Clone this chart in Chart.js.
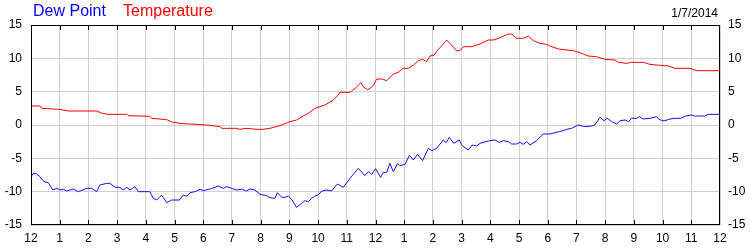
<!DOCTYPE html>
<html>
<head>
<meta charset="utf-8">
<script src="https://cdn.jsdelivr.net/npm/chart.js@4.4.1/dist/chart.umd.min.js"></script>
<style>
  body { margin: 0; background: #fff; }
  #wrap { position: relative; width: 750px; height: 250px; }
  .lbl { position: absolute; font-family: Arial, "Liberation Sans", sans-serif; white-space: nowrap; line-height: 1; }
</style>
</head>
<body>
<div id="wrap">
  <canvas id="weatherChart" width="750" height="250"></canvas>
  <div class="lbl" style="left:33px; top:3px; font-size:16px; color:#0000ff;">Dew Point</div>
  <div class="lbl" style="left:123px; top:3px; font-size:16px; color:#ff0000;">Temperature</div>
  <div class="lbl" style="right:32px; top:7px; font-size:12px; color:#000;">1/7/2014</div>
</div>
<script>
// hour labels along the bottom (midnight to midnight)
const hourLabels = ['12', '1', '2', '3', '4', '5', '6', '7', '8', '9', '10', '11',
  '12', '1', '2', '3', '4', '5', '6', '7', '8', '9', '10', '11', '12'];

// temperature, hours since midnight / degrees
const tempHours = [0, 0.31, 0.38, 1.0, 1.3, 2.3, 2.45, 2.68, 3.34, 3.38, 4.14, 4.2, 4.73, 4.9,
  5.3, 5.78, 6.23, 6.58, 6.65, 7.17, 7.28, 7.5, 7.87, 8.08, 8.32, 8.67, 9.02, 9.25, 9.48,
  9.66, 9.89, 10.0, 10.24, 10.53, 10.7, 10.76, 11.11, 11.29, 11.49, 11.57, 11.73, 11.92,
  12.04, 12.22, 12.39, 12.62, 12.79, 12.95, 13.14, 13.32, 13.49, 13.64, 13.78, 13.9, 14.04,
  14.19, 14.3, 14.48, 14.59, 14.83, 14.94, 15.06, 15.35, 15.64, 15.93, 16.1, 16.28, 16.63,
  16.74, 16.92, 17.15, 17.32, 17.5, 17.73, 17.96, 18.08, 18.37, 18.89, 19.12, 19.41, 19.7,
  19.99, 20.34, 20.46, 20.75, 20.92, 21.33, 21.56, 21.79, 22.2, 22.43, 22.95, 23.19, 24];
const tempValues = [2.85, 2.85, 2.5, 2.35, 2.1, 2.1, 1.8, 1.6, 1.6, 1.4, 1.3, 1.0, 0.8, 0.45,
  0.2, 0.1, -0.05, -0.25, -0.5, -0.5, -0.65, -0.5, -0.65, -0.65, -0.5, -0.1, 0.5, 0.75, 1.35,
  1.75, 2.5, 2.65, 3.0, 3.75, 4.5, 4.9, 4.9, 5.5, 6.35, 5.75, 5.25, 5.9,
  6.9, 6.9, 6.65, 7.65, 7.9, 8.5, 8.5, 9.0, 9.65, 9.85, 9.5, 10.35, 10.5,
  11.35, 11.85, 12.75, 12.25, 11.15, 11.15, 11.75, 11.75, 12.15, 12.75, 12.75, 13.0, 13.65,
  13.65, 13.0, 13.0, 13.35, 12.65, 12.25, 12.1, 11.85, 11.4, 11.15, 10.85, 10.35, 10.25,
  9.85, 9.75, 9.4, 9.25, 9.4, 9.4, 9.1, 9.0, 8.85, 8.5, 8.5, 8.15, 8.15];

// dew point, hours since midnight / degrees
const dewHours = [0, 0.08, 0.2, 0.31, 0.45, 0.6, 0.76, 0.9, 1.01, 1.13, 1.24, 1.47, 1.65, 1.94,
  2.11, 2.29, 2.4, 2.64, 2.75, 2.93, 3.1, 3.21, 3.33, 3.45, 3.62, 3.74, 4.14, 4.26, 4.38,
  4.55, 4.73, 4.9, 5.17, 5.3, 5.42, 5.54, 5.71, 5.89, 6.0, 6.18, 6.29, 6.52, 6.7, 6.82,
  6.99, 7.16, 7.34, 7.51, 7.63, 7.8, 7.98, 8.21, 8.32, 8.5, 8.58, 8.73, 8.85, 8.96, 9.08,
  9.25, 9.43, 9.54, 9.66, 9.78, 9.89, 10.0, 10.13, 10.3, 10.47, 10.67, 10.88, 11.11, 11.4,
  11.63, 11.75, 11.87, 12.0, 12.18, 12.27, 12.39, 12.5, 12.62, 12.77, 12.85, 13.03, 13.18,
  13.32, 13.46, 13.64, 13.84, 13.96, 14.13, 14.36, 14.46, 14.57, 14.73, 14.92, 15.02, 15.23,
  15.37, 15.52, 15.64, 15.93, 16.16, 16.31, 16.45, 16.63, 16.74, 16.92, 17.03, 17.15, 17.27,
  17.38, 17.61, 17.84, 18.08, 18.25, 18.4, 18.54, 18.66, 18.83, 19.06, 19.3, 19.53, 19.64,
  19.82, 19.96, 20.07, 20.23, 20.4, 20.52, 20.69, 20.81, 20.92, 21.1, 21.19, 21.33, 21.56,
  21.79, 21.87, 22.05, 22.22, 22.4, 22.63, 22.81, 23.01, 23.12, 23.47, 23.59, 24];
const dewValues = [-7.75, -7.25, -7.35, -7.75, -8.5, -8.65, -9.75, -9.5, -9.75, -9.65, -9.9,
  -9.6, -10.0, -9.5, -9.5, -10.0, -9.0, -8.75, -8.75, -9.35, -9.35, -9.75, -9.35, -9.75,
  -9.25, -10.0, -10.0, -11.0, -11.25, -10.5, -11.65, -11.25, -11.25, -10.5, -10.7, -10.15,
  -10.0, -9.65, -9.85, -9.65, -9.55, -9.15, -9.5, -9.25, -9.5, -9.75, -9.65, -9.9, -9.6,
  -9.75, -10.4, -10.6, -10.9, -11.0, -10.15, -10.85, -10.85, -10.65, -11.15, -12.35, -11.75,
  -11.35, -11.5, -11.0, -10.65, -10.5, -9.9, -9.75, -9.9, -8.85, -9.35, -8.0, -6.5, -7.6,
  -7.0, -7.4, -6.55, -7.85, -7.1, -7.1, -5.75, -7.0, -5.75, -6.1, -5.9, -4.55, -5.25, -4.4,
  -5.35, -3.5, -3.85, -3.5, -2.25, -2.65, -1.85, -2.75, -2.25, -3.1, -3.75, -3.0, -3.15,
  -2.75, -2.4, -2.25, -2.6, -2.35, -2.5, -2.85, -2.85, -2.6, -2.9, -2.5, -3.0, -2.35, -1.35,
  -1.35, -1.15, -1.0, -0.85, -0.65, -0.5, 0, -0.25, -0.15, 0, 1.15, 0.65, 1.0, 0.5, 0.15,
  0.65, 0.75, 0.5, 1.0, 1.0, 1.25, 0.9, 1.0, 1.25, 0.85, 0.6, 0.85, 1.0, 1.0, 1.35, 1.5,
  1.35, 1.35, 1.6, 1.6];

const toPoints = (xs, ys) => xs.map((x, i) => ({ x: x, y: ys[i] }));

// plot frame and the short inward tick marks on top and bottom
const framePlugin = {
  id: 'frame',
  afterDraw(chart) {
    const ctx = chart.ctx;
    const area = chart.chartArea;
    const xScale = chart.scales.x;
    ctx.save();
    ctx.strokeStyle = '#000';
    ctx.lineWidth = 1;
    ctx.strokeRect(Math.round(area.left) + 0.5, Math.round(area.top) + 0.5,
      Math.round(area.right - area.left) - 1, Math.round(area.bottom - area.top) - 1);
    ctx.beginPath();
    for (let h = 1; h < 24; h++) {
      const px = Math.round(xScale.getPixelForValue(h)) + 0.5;
      ctx.moveTo(px, area.top);
      ctx.lineTo(px, area.top + 5);
      ctx.moveTo(px, area.bottom);
      ctx.lineTo(px, area.bottom - 5);
    }
    ctx.stroke();
    ctx.restore();
  }
};

const tickFont = { family: 'Arial, "Liberation Sans", sans-serif', size: 12 };

new Chart(document.getElementById('weatherChart'), {
  type: 'line',
  data: {
    datasets: [
      {
        label: 'Temperature',
        data: toPoints(tempHours, tempValues),
        borderColor: '#ff0000',
        borderWidth: 1,
        pointRadius: 0,
        tension: 0,
        yAxisID: 'y',
      },
      {
        label: 'Dew Point',
        data: toPoints(dewHours, dewValues),
        borderColor: '#1010ff',
        borderWidth: 1,
        pointRadius: 0,
        tension: 0,
        yAxisID: 'y',
      },
    ],
  },
  options: {
    responsive: false,
    animation: false,
    devicePixelRatio: 1,
    layout: { padding: { top: 25, left: 0, right: 0, bottom: 0 } },
    plugins: {
      legend: { display: false },
      title: { display: false },
      tooltip: { enabled: false },
    },
    scales: {
      x: {
        type: 'linear',
        min: 0,
        max: 24,
        afterFit: (scale) => { scale.height = 25; },
        grid: { color: '#d0d0d0', drawTicks: false },
        border: { display: false },
        ticks: {
          stepSize: 1,
          autoSkip: false,
          maxRotation: 0,
          padding: 6,
          color: '#000',
          font: tickFont,
          callback: (value) => hourLabels[value],
        },
      },
      y: {
        position: 'left',
        min: -15,
        max: 15,
        afterFit: (scale) => { scale.width = 31; },
        grid: { color: '#d0d0d0', drawTicks: false },
        border: { display: false },
        ticks: { stepSize: 5, padding: 9, color: '#000', font: tickFont },
      },
      y2: {
        position: 'right',
        min: -15,
        max: 15,
        afterFit: (scale) => { scale.width = 30; },
        grid: { display: false, drawTicks: false },
        border: { display: false },
        ticks: { stepSize: 5, padding: 8, color: '#000', font: tickFont },
      },
    },
  },
  plugins: [framePlugin],
});
</script>
</body>
</html>
